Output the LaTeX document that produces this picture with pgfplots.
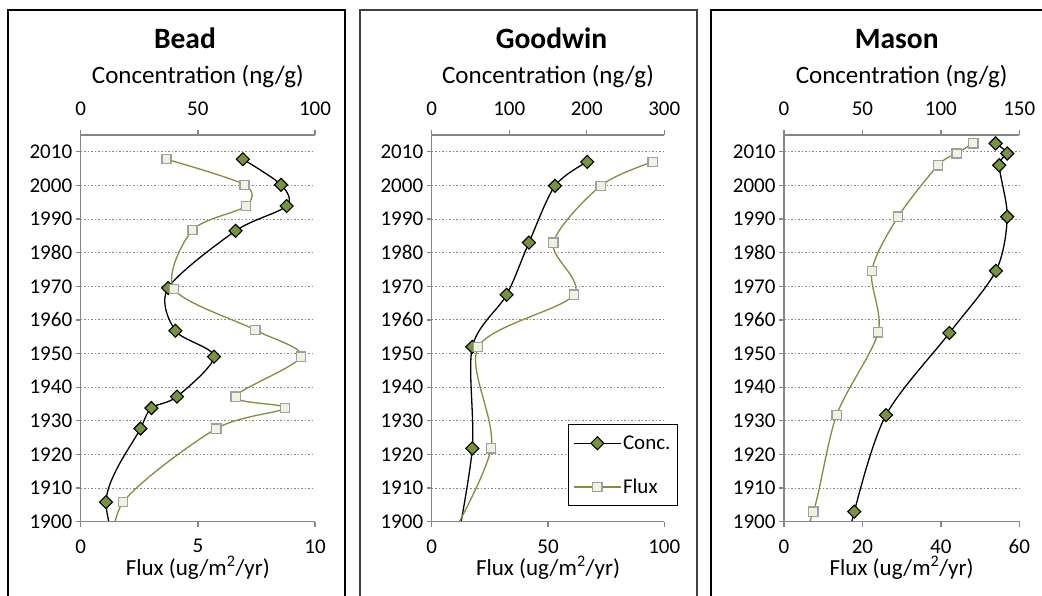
\documentclass[border=0pt]{standalone}
\usepackage{pgfplots}
\pgfplotsset{compat=1.18}
\usepackage{fontspec}
\setmainfont{Carlito}
\definecolor{olive}{HTML}{77933C}
\definecolor{sqfill}{HTML}{EEF2E3}
\definecolor{sqedge}{HTML}{A0A0A0}
\definecolor{axgray}{HTML}{868686}

\pgfplotsset{
  base/.style={
    scale only axis, height=386.7pt,
    ymin=1900, ymax=2015,
    tick align=outside, major tick length=5pt,
    axis line style={axgray, line width=1.3pt},
    every tick/.style={axgray, line width=1.3pt},
    tick label style={font=\fontsize{21}{21}\selectfont, text=black},
    /pgf/number format/assume math mode=true,
    /pgf/number format/1000 sep={},
    clip=true,
  },
  concax/.style={base,
    axis x line*=top, axis y line*=left,
    ytick={1900,1910,...,2010},
    xticklabel style={inner sep=1pt, yshift=13pt},
    ymajorgrids,
    grid style={axgray, line width=1pt, dash pattern=on 1.5pt off 2pt},
    xlabel={Concentration (ng/g)},
    xlabel style={font=\fontsize{25}{25}\selectfont, at={(axis description cs:0.5,1.132)}, anchor=base},
    title style={font=\bfseries\fontsize{29.5}{29.5}\selectfont, anchor=base},
  },
  fluxax/.style={base,
    axis x line*=bottom, axis y line=none, ytick=\empty,
    xticklabel style={inner sep=0.5pt, yshift=-12pt},
    xlabel={Flux (ug/m\textsuperscript{2}/yr)},
    xlabel style={font=\fontsize{23}{23}\selectfont, inner sep=0.5pt, at={(axis description cs:0.5,-0.14)}, anchor=base},
  },
  concplot/.style={black, line width=1.3pt, smooth, mark=square*, mark size=4.6pt,
    mark options={rotate=45, fill=olive, draw=black, line width=1.1pt}},
  fluxplot/.style={olive, line width=1.3pt, smooth, mark=square*, mark size=4.6pt,
    mark options={fill=sqfill, draw=sqedge, line width=1.3pt}},
}

\begin{document}
\begin{tikzpicture}
\useasboundingbox (0pt,0pt) rectangle (1042pt,595pt);
\clip (0pt,0pt) rectangle (1042pt,595pt);
\fill[white] (0pt,0pt) rectangle (1042pt,595pt);
% panel borders
\draw[black, line width=1.2pt] (8pt,-10pt) |- (345pt,585pt) -- (345pt,-10pt);
\draw[black!75, line width=1.6pt] (360pt,-10pt) |- (697pt,585pt) -- (697pt,-10pt);
\draw[black, line width=1.2pt] (711pt,-10pt) |- (1060pt,585pt);

% ---------------- Bead ----------------
\begin{axis}[concax, at={(80.7pt,73.3pt)}, anchor=south west, width=234.3pt,
  xmin=0, xmax=100, xtick={0,50,100},
  title={Bead}, title style={at={(axis description cs:0.445,1.207)}}]
\addplot[concplot] table {
x y
69.2 2007.8
85.5 2000.2
87.9 1993.9
66.1 1986.5
37.3 1969.5
40.4 1956.8
56.9 1949.1
41.1 1937.2
30.2 1933.8
25.5 1927.7
10.8 1905.8
24.0 1875
};
\end{axis}
\begin{axis}[fluxax, at={(80.7pt,73.3pt)}, anchor=south west, width=234.3pt,
  xmin=0, xmax=10, xtick={0,5,10}]
\addplot[fluxplot] table {
x y
3.66 2007.8
6.99 2000.2
7.06 1993.9
4.77 1986.7
3.98 1969.2
7.45 1957.0
9.40 1949.1
6.61 1937.2
8.72 1933.8
5.79 1927.7
1.81 1905.8
1.30 1885
};
\end{axis}

% ---------------- Goodwin ----------------
\begin{axis}[concax, at={(431.7pt,73.3pt)}, anchor=south west, width=232.6pt,
  xmin=0, xmax=300, xtick={0,100,200,300},
  title={Goodwin}, title style={at={(axis description cs:0.515,1.207)}}]
\addplot[concplot] table {
x y
200.6 2007.0
159.0 1999.9
125.4 1983.0
96.7 1967.5
52.4 1952.0
52.4 1921.8
30.0 1890
};
\end{axis}
\begin{axis}[fluxax, at={(431.7pt,73.3pt)}, anchor=south west, width=232.6pt,
  xmin=0, xmax=100, xtick={0,50,100},
  legend style={at={(0.587,0.252)}, anchor=north west, draw=black, line width=1pt,
    fill=white, font=\fontsize{21}{21}\selectfont, row sep=24pt,
    inner xsep=5pt, inner ysep=9pt},
  legend cell align=left,
  legend image code/.code={\draw[mark repeat=2, mark phase=2, #1] plot coordinates {(0pt,0pt) (23pt,0pt) (46pt,0pt)};}]
\addlegendimage{concplot}
\addlegendentry{Conc.}
\addplot[fluxplot] table {
x y
95.0 2007.0
72.6 1999.9
52.3 1983.0
61.2 1967.5
20.0 1952.0
25.5 1921.8
4.0 1890
};
\addlegendentry{Flux}
\end{axis}

% ---------------- Mason ----------------
\begin{axis}[concax, at={(784pt,73.3pt)}, anchor=south west, width=235.3pt,
  xmin=0, xmax=150, xtick={0,50,100,150},
  title={Mason}, title style={at={(axis description cs:0.479,1.207)}}]
\addplot[concplot] table {
x y
134.9 2012.5
142.3 2009.5
137.2 2006.0
142.3 1990.7
135.1 1974.6
105.4 1956.1
65.0 1931.7
44.8 1903.0
38.0 1885
};
\end{axis}
\begin{axis}[fluxax, at={(784pt,73.3pt)}, anchor=south west, width=235.3pt,
  xmin=0, xmax=60, xtick={0,20,40,60}]
\addplot[fluxplot] table {
x y
48.3 2012.5
44.0 2009.5
39.3 2006.0
29.1 1990.7
22.4 1974.6
24.0 1956.3
13.4 1931.7
7.5 1903.0
0.5 1885
};
\end{axis}
\end{tikzpicture}
\end{document}
